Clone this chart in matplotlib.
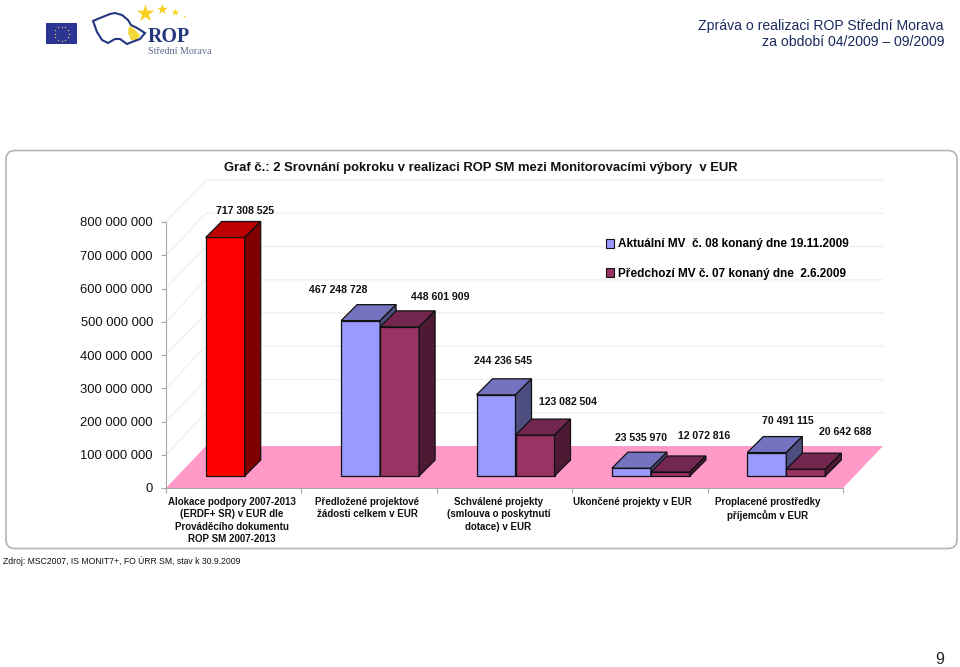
import matplotlib
matplotlib.use('Agg')
import matplotlib.pyplot as plt
import numpy as np
from matplotlib.patches import FancyBboxPatch, Patch, Polygon, Rectangle

plt.rcParams['font.family'] = ['Liberation Sans', 'DejaVu Sans']

# Hodnoty z grafu
categories = ['Alokace podpory 2007-2013\n(ERDF+ SR) v EUR dle\nProváděcího dokumentu\nROP SM 2007-2013',
              'Předložené projektové\nžádosti celkem v EUR',
              'Schválené projekty\n(smlouva o poskytnutí\ndotace) v EUR',
              'Ukončené projekty v EUR',
              'Proplacené prostředky\npříjemcům v EUR']
current = [717308525, 467248728, 244236545, 23535970, 70491115]
previous = [None, 448601909, 123082504, 12072816, 20642688]
y_ticks = [0, 100000000, 200000000, 300000000, 400000000, 500000000, 600000000, 700000000, 800000000]
legend_labels = ['Aktuální MV  č. 08 konaný dne 19.11.2009', 'Předchozí MV č. 07 konaný dne  2.6.2009']

# Posuny popisků v pixelech od horní hrany přední stěny sloupce
current_offsets = [(20, 26), (-22, 31), (7, 34), (10, 30), (21, 32)]
previous_offsets = [None, (41, 30), (33, 33), (34, 36), (39, 37)]
label_x_px = [232, 367.5, 498.5, 632, 768]

# Rozměry 3D v pixelech
AX_L, AX_B, AX_W, AX_H = 166, 488, 677, 266
PX_X = 5 / AX_W
PX_Y = 800000000 / AX_H
BAR_W, BAR_DX, BAR_DY = 39, 16, 16
FLOOR_DX, FLOOR_DY = 40, 42
BASE_UP, GROUP_SHIFT = 12, 11

BLUE = ('#9999FF', '#7373BF', '#4D4D80')
PLUM = ('#993366', '#732650', '#4D1933')
RED = ('#FF0000', '#BF0000', '#800000')


def px(size):
    return size * 0.72


def draw_bar(ax, left, value, colors):
    # left je v jednotkách osy x, value v EUR
    w = BAR_W * PX_X
    dx = BAR_DX * PX_X
    dy = BAR_DY * PX_Y
    base = BASE_UP * PX_Y
    top = base + value
    right = left + w
    faces = [([left, right, right, left], [base, base, top, top], colors[0]),
             ([left, right, right + dx, left + dx], [top, top, top + dy, top + dy], colors[1]),
             ([right, right + dx, right + dx, right], [base, base + dy, top + dy, top], colors[2])]
    for xs, ys, color in faces:
        ax.add_patch(Polygon(np.column_stack([xs, ys]), closed=True, facecolor=color,
                             edgecolor='#111111', linewidth=0.9, clip_on=False, zorder=5,
                             joinstyle='miter'))


def draw_label(ax, left, value, text, offset):
    x = left + BAR_W * PX_X / 2
    y = BASE_UP * PX_Y + value
    ax.annotate(text, xy=(x, y), xytext=(offset[0] * 0.72, offset[1] * 0.72),
                textcoords='offset points', ha='center', va='center',
                fontsize=px(10.5), fontweight='bold', color='#111111', zorder=8,
                annotation_clip=False)


def format_value(v):
    return f'{v:,}'.replace(',', ' ')


def draw_page(bg):
    bg.set_xlim(0, 960)
    bg.set_ylim(667, 0)
    bg.axis('off')
    # Rámeček grafu
    bg.add_patch(FancyBboxPatch((6, 150.5), 951, 398, boxstyle='round,pad=0,rounding_size=9',
                                facecolor='white', edgecolor='#B4B4B4', linewidth=1.2))
    # Záhlaví
    bg.text(944, 26, 'Zpráva o realizaci ROP Střední Morava', ha='right', va='center',
            fontsize=px(14), color='#1A2A5E')
    bg.text(944, 42, 'za období 04/2009 – 09/2009', ha='right', va='center',
            fontsize=px(14), color='#1A2A5E')
    bg.text(940, 660, '9', ha='center', va='center', fontsize=px(16), color='#222222')
    bg.text(224, 168.5, 'Graf č.: 2 Srovnání pokroku v realizaci ROP SM mezi Monitorovacími výbory  v EUR',
            ha='left', va='center', fontsize=px(13.05), fontweight='bold', color='#111111')
    bg.text(3, 561, 'Zdroj: MSC2007, IS MONIT7+, FO ÚRR SM, stav k 30.9.2009', ha='left', va='center',
            fontsize=px(8.6), color='#111111')
    # Vlajka EU
    bg.add_patch(Rectangle((46, 23), 31, 21, facecolor='#2A3594', edgecolor='none'))
    angles = np.arange(12) * np.pi / 6
    bg.scatter(61.5 + 7 * np.cos(angles), 33.5 + 7 * np.sin(angles), s=2.5, marker='*',
               color='#F5D94A', linewidths=0)
    # Logo ROP
    outline = [(93, 21), (100, 18), (110, 14), (115, 13), (122, 15), (128, 20), (131, 25), (137, 28),
               (145, 33), (140, 39), (132, 42), (127, 44), (120, 39), (115, 39), (108, 43), (102, 40),
               (97, 32)]
    moravia = [(129, 26), (133, 28), (140, 35), (137, 41), (131, 40), (128, 33)]
    bg.add_patch(Polygon(moravia, closed=True, facecolor='#F4D83A', edgecolor='none'))
    bg.add_patch(Polygon(outline, closed=True, facecolor='none', edgecolor='#24387F', linewidth=1.5))
    for x, y, s in [(145, 13, 170), (162, 9, 64), (175, 12, 33), (184, 16, 6)]:
        bg.scatter([x], [y], s=s, marker='*', color='#F7D11E', linewidths=0)
    bg.text(147.5, 37, 'ROP', ha='left', va='center', family='Liberation Serif', fontsize=px(20),
            fontweight='bold', color='#24387F')
    bg.text(148, 52, 'Střední Morava', ha='left', va='center', family='Liberation Serif',
            fontsize=px(10.1), color='#5C6B8C')


def draw_chart(ax):
    ax.set_xlim(0, 5)
    ax.set_ylim(0, 800000000)
    ax.patch.set_alpha(0)
    for side in ['top', 'right']:
        ax.spines[side].set_visible(False)
    for side in ['left', 'bottom']:
        ax.spines[side].set_color('#A8A8A8')
        ax.spines[side].set_linewidth(0.8)
    ax.set_yticks(y_ticks)
    ax.set_yticklabels([format_value(v) for v in y_ticks], fontsize=px(13), color='#111111')
    ax.set_xticks(range(6))
    ax.set_xticklabels([])
    ax.tick_params(axis='both', color='#A8A8A8', width=0.8, length=3.6)
    ax.tick_params(axis='y', pad=5.8)

    fx = FLOOR_DX * PX_X
    fy = FLOOR_DY * PX_Y
    # Stěny a podlaha
    for v in y_ticks[1:]:
        ax.plot([0, fx, 5 + fx], [v, v + fy, v + fy], color='#EFEFEF', lw=0.9, clip_on=False, zorder=1)
    ax.add_patch(Polygon([(0, 0), (5, 0), (5 + fx, fy), (fx, fy)], closed=True,
                         facecolor='#FF99C8', edgecolor='none', clip_on=False, zorder=2))

    w = BAR_W * PX_X
    for i, (cur, prev) in enumerate(zip(current, previous)):
        center = i + 0.5 + GROUP_SHIFT * PX_X
        draw_bar(ax, center - w, cur, RED if i == 0 else BLUE)
        draw_label(ax, center - w, cur, format_value(cur), current_offsets[i])
        if prev is not None:
            draw_bar(ax, center, prev, PLUM)
            draw_label(ax, center, prev, format_value(prev), previous_offsets[i])
        ax.text((label_x_px[i] - AX_L) * PX_X, -9 * PX_Y, categories[i], ha='center', va='top',
                fontsize=px(9.75), fontweight='bold', color='#111111', linespacing=1.3)


def main():
    fig = plt.figure(figsize=(9.6, 6.67), dpi=100)
    bg = fig.add_axes([0, 0, 1, 1])
    draw_page(bg)
    ax = fig.add_axes([AX_L / 960, 1 - AX_B / 667, AX_W / 960, AX_H / 667])
    draw_chart(ax)
    handles = [Patch(facecolor=BLUE[0], edgecolor='#111111', linewidth=0.8),
               Patch(facecolor=PLUM[0], edgecolor='#111111', linewidth=0.8)]
    fig.legend(handles, legend_labels, loc='upper left', bbox_to_anchor=(606 / 960, 1 - 238.5 / 667),
               frameon=False, handlelength=0.7, handleheight=0.7, handletextpad=0.3,
               labelspacing=1.45, borderpad=0, borderaxespad=0,
               prop={'weight': 'bold', 'size': px(11.8)})
    fig.savefig('out.png', dpi=100)


if __name__ == '__main__':
    main()
